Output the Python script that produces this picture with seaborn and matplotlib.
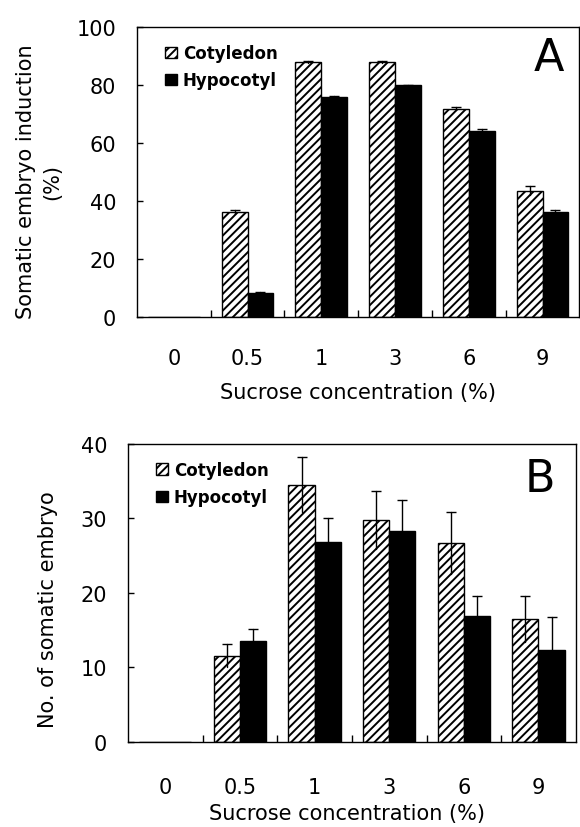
import pandas as pd
import matplotlib.pyplot as plt
import seaborn as sns
from matplotlib.ticker import FixedLocator

sns.set_style('ticks')
plt.rcParams['font.family'] = ['DejaVu Sans']
plt.rcParams['hatch.linewidth'] = 1.4
plt.rcParams['text.color'] = 'black'
plt.rcParams['axes.labelcolor'] = 'black'
plt.rcParams['xtick.color'] = 'black'
plt.rcParams['ytick.color'] = 'black'

conc = ['0', '0.5', '1', '3', '6', '9']
tissues = ['Cotyledon', 'Hypocotyl']

# panel A: somatic embryo induction (%)
a_coty = [0, 36.2, 88.0, 88.0, 71.9, 43.6]
a_coty_err = [0, 0.8, 0.3, 0.3, 0.4, 1.5]
a_hypo = [0, 8.2, 76.0, 79.9, 64.0, 36.2]
a_hypo_err = [0, 0.3, 0.3, 0.3, 0.7, 0.7]

# panel B: no. of somatic embryo
b_coty = [0, 11.6, 34.5, 29.8, 26.7, 16.5]
b_coty_err = [0, 1.5, 3.7, 3.9, 4.2, 3.1]
b_hypo = [0, 13.5, 26.9, 28.3, 16.9, 12.4]
b_hypo_err = [0, 1.6, 3.2, 4.2, 2.7, 4.4]

FS = 15


def draw_panel(ax, coty, coty_err, hypo, hypo_err, ymax, ystep):
    df = pd.DataFrame({'conc': conc * 2,
                       'value': coty + hypo,
                       'tissue': [tissues[0]] * len(conc) + [tissues[1]] * len(conc)})
    sns.barplot(data=df, x='conc', y='value', hue='tissue', order=conc, hue_order=tissues,
                palette={'Cotyledon': 'white', 'Hypocotyl': 'black'},
                edgecolor='black', linewidth=1, width=0.7, errorbar=None,
                legend=False, ax=ax)
    for bar in ax.containers[0]:
        bar.set_hatch('////')

    for cont, vals, errs in zip(ax.containers, [coty, hypo], [coty_err, hypo_err]):
        for bar, v, e in zip(cont, vals, errs):
            if v == 0:
                continue
            xc = bar.get_x() + bar.get_width() / 2
            ax.plot([xc, xc], [v - e, v + e], color='black', lw=1, zorder=3)
            ax.plot([xc], [v + e], marker='_', ms=7, mew=1, color='black', zorder=3)

    ax.set_ylim(0, ymax)
    ax.set_xlim(-0.5, len(conc) - 0.5)
    ax.set_yticks(range(0, ymax + 1, ystep))
    ax.tick_params(axis='y', direction='in', length=4, width=1, labelsize=FS, pad=15)
    ax.tick_params(axis='x', which='major', length=0, labelsize=FS)
    ax.xaxis.set_minor_locator(FixedLocator([i + 0.5 for i in range(len(conc) - 1)]))
    ax.tick_params(axis='x', which='minor', direction='in', length=5, width=1)
    for s in ax.spines.values():
        s.set_linewidth(1)
        s.set_color('black')

    leg = ax.legend(ax.containers, tissues, frameon=False, loc='upper left',
                    bbox_to_anchor=(0.045, 0.97), borderpad=0, handlelength=0.7,
                    handleheight=0.7, handletextpad=0.35, labelspacing=0.55,
                    prop={'weight': 'bold', 'size': 12})
    return leg


fig = plt.figure(figsize=(5.8, 8.28), dpi=100)
ax_a = fig.add_axes([0.236, 0.616, 0.763, 0.350])
ax_b = fig.add_axes([0.2207, 0.1027, 0.772, 0.360])

draw_panel(ax_a, a_coty, a_coty_err, a_hypo, a_hypo_err, 100, 20)
draw_panel(ax_b, b_coty, b_coty_err, b_hypo, b_hypo_err, 40, 10)

ax_a.tick_params(axis='x', which='major', pad=22)
ax_b.tick_params(axis='x', which='major', pad=25)

ax_a.set_xlabel('Sucrose concentration (%)', fontsize=FS)
ax_a.xaxis.set_label_coords(0.5, -0.225)
ax_b.set_xlabel('Sucrose concentration (%)', fontsize=FS)
ax_b.xaxis.set_label_coords(0.49, -0.205)

ax_a.set_ylabel('Somatic embryo induction\n(%)', fontsize=FS, va='center', linespacing=1.35)
ax_a.yaxis.set_label_coords(-0.221, 0.47)
ax_b.set_ylabel('No. of somatic embryo', fontsize=FS, va='center')
ax_b.yaxis.set_label_coords(-0.179, 0.446)

ax_a.text(0.93, 0.897, 'A', transform=ax_a.transAxes, fontsize=32, ha='center', va='center')
ax_b.text(0.92, 0.883, 'B', transform=ax_b.transAxes, fontsize=32, ha='center', va='center')

fig.savefig('out.png', dpi=100)
